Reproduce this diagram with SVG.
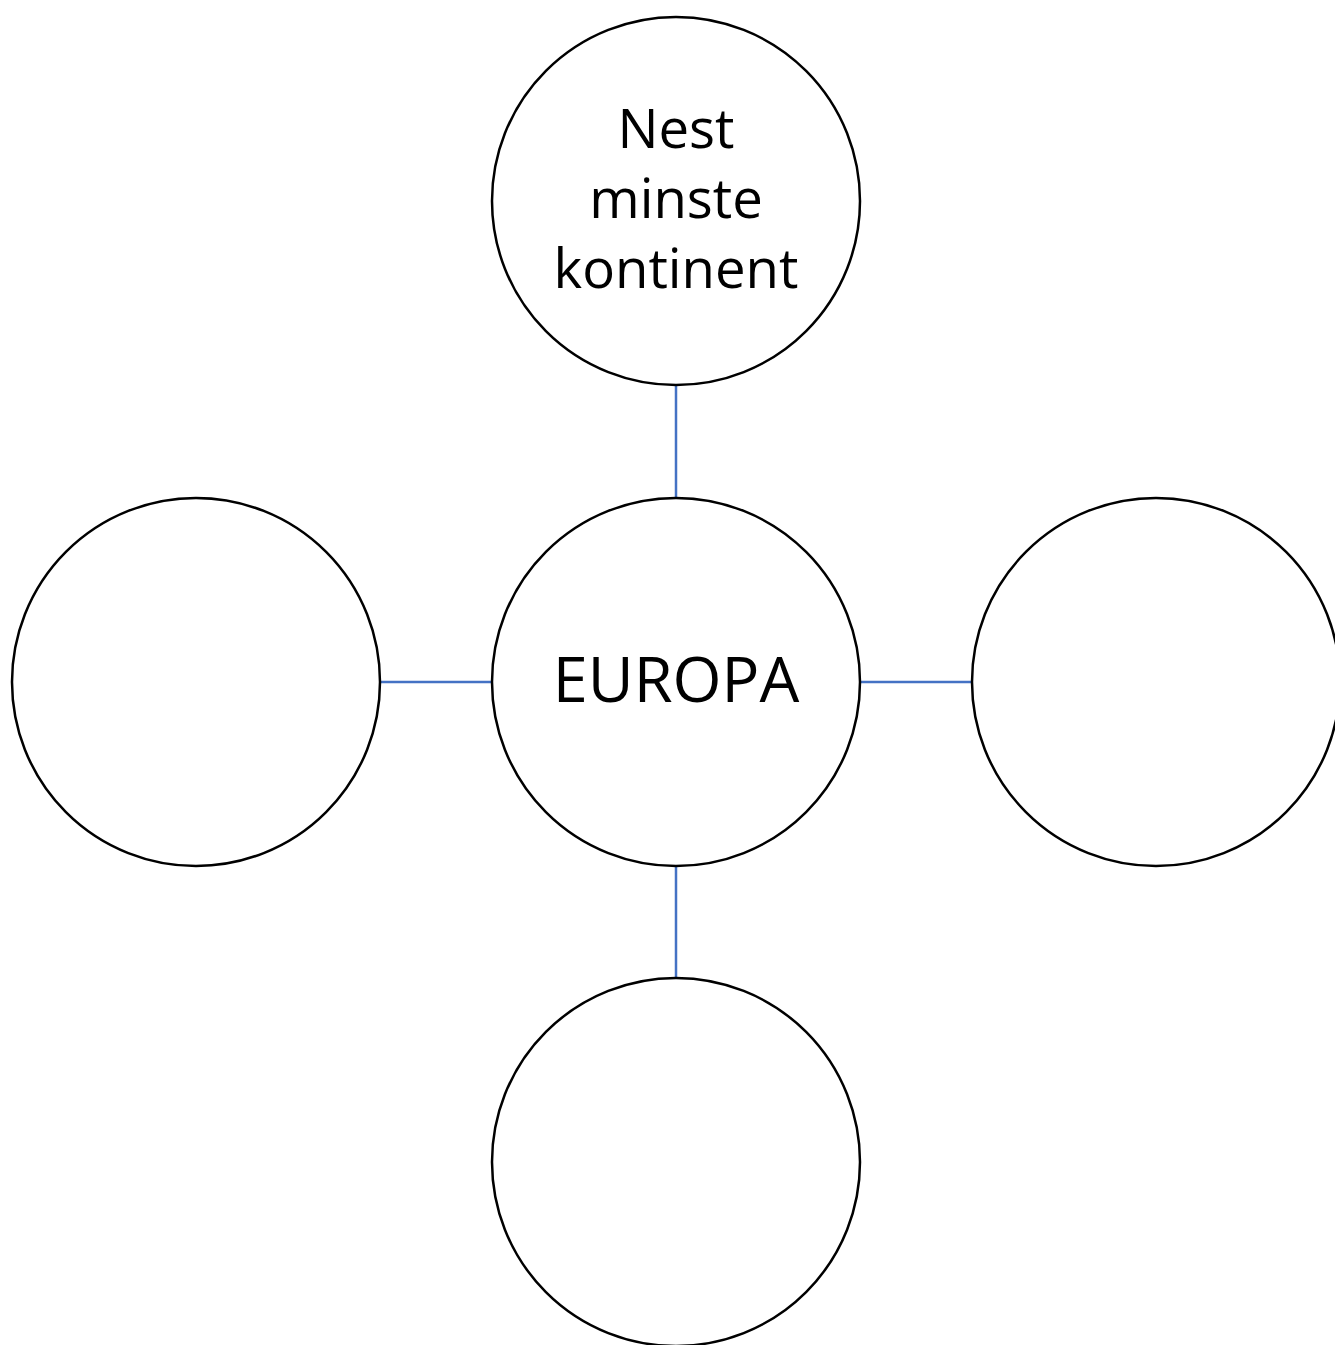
<svg xmlns="http://www.w3.org/2000/svg" width="1335" height="1345" viewBox="0 0 1335 1345">
<style>
.node{fill:#fff;stroke:#000;stroke-width:2.5}
.conn{stroke:#4472C4;stroke-width:2.5;fill:none}
.lbl{font-family:"Open Sans","Liberation Sans",sans-serif;fill:#000;text-anchor:middle}
</style>
<rect width="1335" height="1345" fill="#fff"/>
<g id="connectors">
<line class="conn" x1="676" y1="385" x2="676" y2="497"/>
<line class="conn" x1="676" y1="867" x2="676" y2="978"/>
<line class="conn" x1="380" y1="682" x2="491" y2="682"/>
<line class="conn" x1="860" y1="682" x2="972" y2="682"/>
</g>
<g id="node-top">
<circle class="node" cx="676" cy="201" r="184"/>
<text class="lbl" font-size="54.5" x="676" y="148">Nest</text>
<text class="lbl" font-size="54.5" x="676" y="218">minste</text>
<text class="lbl" font-size="54.5" x="676" y="288">kontinent</text>
</g>
<g id="node-center">
<circle class="node" cx="676" cy="682" r="184"/>
<text class="lbl" font-size="63" x="676" y="702">EUROPA</text>
</g>
<g id="node-left">
<circle class="node" cx="196" cy="682" r="184"/>
</g>
<g id="node-right">
<circle class="node" cx="1156" cy="682" r="184"/>
</g>
<g id="node-bottom">
<circle class="node" cx="676" cy="1162" r="184"/>
</g>
</svg>
